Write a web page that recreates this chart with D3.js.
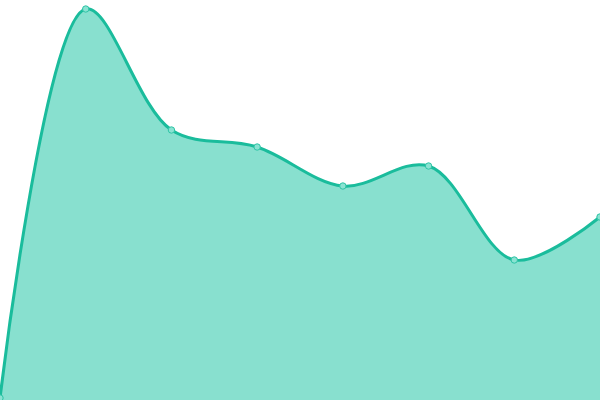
<!DOCTYPE html>
<html><head><meta charset="utf-8">
<script src="https://cdn.jsdelivr.net/npm/d3@7"></script>
<style>html,body{margin:0;padding:0;background:#fff;overflow:hidden}</style>
</head><body>
<svg id="c" width="600" height="400"></svg>
<script>
const categories = [0, 1, 2, 3, 4, 5, 6, 7];
const values = [2, 391, 270, 253, 214, 234, 140, 183];

const W = 600, H = 400;
const svg = d3.select("#c");
const x = d3.scaleLinear().domain([0, categories.length - 1]).range([0, W]);
const y = d3.scaleLinear().domain([0, 400]).range([H, 0]);
const data = categories.map((c, i) => ({c, v: values[i]}));
const curve = d3.curveCatmullRom.alpha(0.5);

svg.append("path").datum(data)
  .attr("d", d3.area().x(d => x(d.c)).y0(H).y1(d => y(d.v)).curve(curve))
  .attr("fill", "#88e0cf");
svg.append("path").datum(data)
  .attr("d", d3.line().x(d => x(d.c)).y(d => y(d.v)).curve(curve))
  .attr("fill", "none").attr("stroke", "#1abc9c").attr("stroke-width", 3);
svg.selectAll("circle").data(data).enter().append("circle")
  .attr("cx", d => x(d.c)).attr("cy", d => y(d.v)).attr("r", 3.2)
  .attr("fill", "#8ae3d2").attr("stroke", "#2ec4a6").attr("stroke-width", 1);
</script>
</body></html>
